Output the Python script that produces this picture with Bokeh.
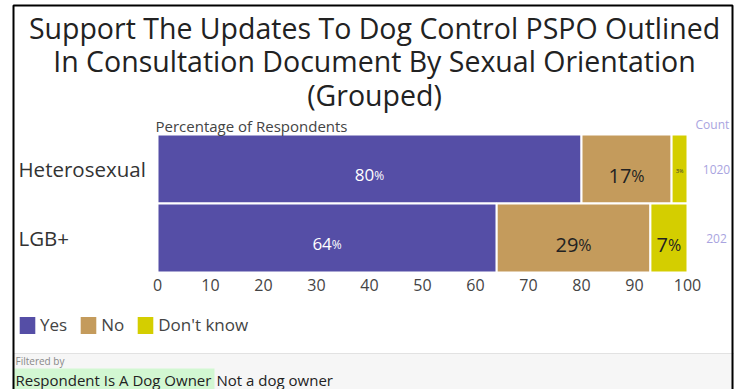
from bokeh.plotting import figure
from bokeh.models import (ColumnDataSource, Label, LabelSet, BoxAnnotation, Legend,
                          LegendItem, Range1d)
from bokeh.core.properties import value, field
from bokeh.embed import file_html
from bokeh.resources import INLINE

# ---------------- data ----------------
title_lines = ["Support The Updates To Dog Control PSPO Outlined",
               "In Consultation Document By Sexual Orientation",
               "(Grouped)"]
groups = ["Heterosexual", "LGB+"]
series = ["Yes", "No", "Don't know"]
yes = [80, 64]
no = [17, 29]
dont_know = [3, 7]
counts = [1020, 202]
x_ticks = [0, 10, 20, 30, 40, 50, 60, 70, 80, 90, 100]
axis_label = "Percentage of Respondents"
count_label = "Count"
filter_title = "Filtered by"
filter_name = "Respondent Is A Dog Owner"
filter_value = "Not a dog owner"

# ---------------- style / geometry ----------------
FONT = "Open Sans"
colors = ["#554ea6", "#c49b5c", "#d4ce00"]
W, H = 734, 389
FL, FR = 157, 687          # pixel positions of 0% and 100%
ROW, C0 = 69, 168.5        # row height and centre of first row (px)
PX = (FR - FL) / 100.0

p = figure(width=W, height=H, output_backend="svg", toolbar_location=None,
           x_range=Range1d(-FL / PX, (W - FL) / PX),
           y_range=Range1d((H - C0) / ROW, -C0 / ROW),
           min_border=0)
p.min_border_left = p.min_border_right = p.min_border_top = p.min_border_bottom = 0
p.outline_line_color = None
p.grid.visible = False
p.yaxis.visible = False
p.background_fill_color = "white"
p.border_fill_color = "white"

xa = p.xaxis[0]
xa.fixed_location = len(groups) - 0.5
xa.ticker = x_ticks
xa.axis_line_color = None
xa.major_tick_line_color = None
xa.minor_tick_line_color = None
xa.major_tick_in = 0
xa.major_tick_out = 0
xa.major_label_standoff = 6
xa.major_label_text_font = FONT
xa.major_label_text_font_size = "16px"
xa.major_label_text_color = "#444444"

yidx = list(range(len(groups)))
src = ColumnDataSource(data={"yi": yidx, "Yes": yes, "No": no, "Don't know": dont_know})

# ---------------- helpers (canvas px -> screen units from bottom-left) ----------------
def put(text, cx, cy, size, color, align="left", baseline="middle"):
    p.add_layout(Label(x=cx, y=H - cy, x_units="screen", y_units="screen",
                       text=text, text_font=FONT, text_font_size=f"{size}px",
                       text_color=color, text_align=align, text_baseline=baseline))

def box(l, r, t, b, fill=None, line=None, lw=1, level="underlay"):
    p.add_layout(BoxAnnotation(left=l, right=r, top=H - t, bottom=H - b,
                               left_units="screen", right_units="screen",
                               top_units="screen", bottom_units="screen",
                               fill_color=fill, fill_alpha=1 if fill else 0,
                               line_color=line, line_alpha=1 if line else 0,
                               line_width=lw, level=level))

# filter panel backgrounds
box(13, 740, 353, 400, fill="#f6f6f6", line="#e2e2e2")
box(13, 214, 368, 400, fill="#d2f7d2")

rends = p.hbar_stack(series, y="yi", height=1.0, color=colors, source=src,
                     line_color="white", line_width=2)

# ---------------- bar value labels ----------------
lx, ly, ntxt, ptxt, ncol, nsz, psz, nxo, nyo = [], [], [], [], [], [], [], [], []
vals = {"Yes": yes, "No": no, "Don't know": dont_know}
for gi in yidx:
    left = 0
    for s in series:
        v = vals[s][gi]
        mid = left + v / 2
        left += v
        if s == "Yes":
            ns, ps, col = 17, 12, "white"
        elif v < 5:
            ns, ps, col = 6, 5, "#333333"
        else:
            ns, ps, col = 20, 16, "#222222"
        num = str(v)
        numw = len(num) * 0.572 * ns
        pw = 0.83 * ps
        tot = numw + pw
        lx.append(mid); ly.append(gi); ntxt.append(num); ptxt.append("%")
        ncol.append(col); nsz.append(f"{ns}px"); psz.append(f"{ps}px")
        nxo.append(-tot / 2 + numw)
        nyo.append(0.36 * ns)
lsrc = ColumnDataSource(data=dict(x=lx, y=ly, num=ntxt, pct=ptxt, col=ncol, nsz=nsz,
                                  psz=psz, nxo=nxo, nyo=nyo))
p.text(x="x", y="y", text="num", source=lsrc, text_font=value(FONT),
       text_font_size=field("nsz"), text_color="col", text_align="right",
       text_baseline="alphabetic", x_offset="nxo", y_offset="nyo")
p.text(x="x", y="y", text="pct", source=lsrc, text_font=value(FONT),
       text_font_size=field("psz"), text_color="col", text_align="left",
       text_baseline="alphabetic", x_offset="nxo", y_offset="nyo")

# frame border
box(13, 732, 5, 420, fill=None, line="black", lw=2, level="overlay")

# title
for i, t in enumerate(title_lines):
    put(t, 374, 27 + i * 33.5, 28.5, "#222222", align="center")

put(axis_label, 155, 125, 15, "#444444")
put(count_label, 695, 124, 12, "#a9a4e0")

# category labels & counts
csrc = ColumnDataSource(data=dict(y=yidx, t=groups, c=[str(c) for c in counts]))
p.add_layout(LabelSet(x=18, y="y", x_units="screen", text="t", source=csrc,
                      text_font=value(FONT), text_font_size="20.5px", text_color="#333333",
                      text_align="left", text_baseline="middle"))
p.add_layout(LabelSet(x=716, y="y", x_units="screen", text="c", source=csrc,
                      text_font=value(FONT), text_font_size="12px", text_color="#a9a4e0",
                      text_align="center", text_baseline="middle"))

# legend
items = [LegendItem(label=s, renderers=[r]) for s, r in zip(series, rends)]
legend = Legend(items=items, orientation="horizontal", location=(16, H - 336.5),
                glyph_width=22, glyph_height=24, label_standoff=2, spacing=10,
                padding=0, margin=0, background_fill_alpha=0, border_line_color=None,
                label_text_font=FONT, label_text_font_size="17px",
                label_text_color="#444444")
p.add_layout(legend)

# filter texts
put(filter_title, 15, 360, 10, "#888888")
put(filter_name, 15, 379, 15, "#222222")
put(filter_value, 216, 379, 15, "#222222")

open("out.html", "w").write(file_html(p, INLINE))
